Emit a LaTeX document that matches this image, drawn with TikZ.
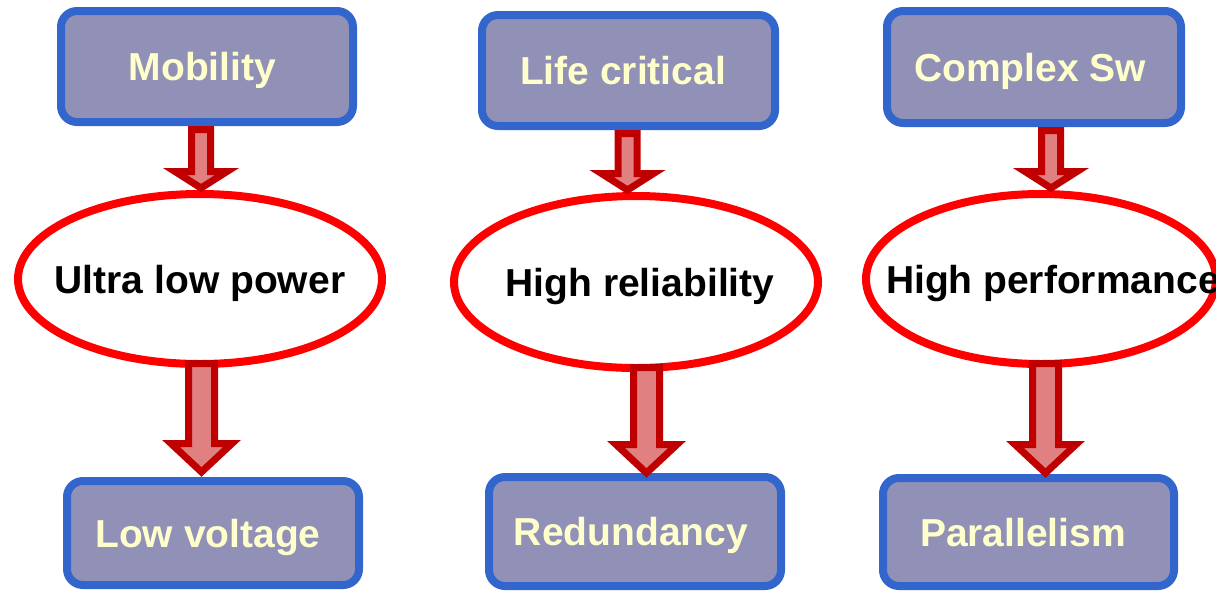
\documentclass[tikz,border=0pt]{standalone}
\usepackage{fontspec}
\setmainfont{Liberation Sans}
\usetikzlibrary{shapes.geometric,calc}
\definecolor{boxfill}{RGB}{145,145,184}
\definecolor{boxborder}{RGB}{51,102,204}
\definecolor{boxtext}{RGB}{255,255,204}
\definecolor{ellred}{RGB}{255,0,0}
\definecolor{arrfill}{RGB}{224,128,128}
\definecolor{arrdraw}{RGB}{192,0,0}
\newcommand\fatarrow[8]{%
  \draw[fatarr] let \p1=(#2), \p2=(#4) in
    ({#1pt-#6pt},{\y1+(#3pt)}) -- ({#1pt-#6pt},{\y2+(#5pt)+#8pt}) --
    ({#1pt-#7pt},{\y2+(#5pt)+#8pt}) -- ({#1pt},{\y2+(#5pt)}) --
    ({#1pt+#7pt},{\y2+(#5pt)+#8pt}) -- ({#1pt+#6pt},{\y2+(#5pt)+#8pt}) --
    ({#1pt+#6pt},{\y1+(#3pt)}) -- cycle;}
\begin{document}
\begin{tikzpicture}[x=1pt,y=-1pt,
  bigfont/.style={font=\bfseries\fontsize{39}{46}\selectfont},
  box/.style={draw=boxborder,fill=boxfill,line width=8pt,rounded corners=16pt,
    text=boxtext,bigfont,inner sep=0pt,minimum width=292pt,
    text height=28pt,text depth=0pt},
  ell/.style={ellipse,draw=ellred,fill=white,line width=8pt,inner sep=0pt,
    text=black,bigfont,text height=28pt,text depth=-4pt},
  fatarr/.style={draw=arrdraw,fill=arrfill,line width=7pt,miter limit=10}]
\useasboundingbox (0,0) rectangle (1216,590);
\clip (0,0) rectangle (1216,590);
% top boxes
\node[box,minimum height=111pt] (b1) at (207,66.5) {\hspace*{-9pt}Mobility};
\node[box,minimum width=293pt,minimum height=111pt] (b2) at (628.5,70.5) {\hspace*{-11pt}Life critical};
\node[box,minimum width=294pt,minimum height=112pt] (b3) at (1034,67) {\hspace*{-8pt}Complex Sw};
% ellipses
\node[ell,minimum width=364pt,minimum height=170pt] (e1) at (200,279) {\makebox[0pt]{Ultra low power}};
\node[ell,minimum width=364pt,minimum height=172pt] (e2) at (636,282) {\makebox[0pt]{\hspace*{8pt}High reliability}};
\node[ell,minimum width=350pt,minimum height=170pt] (e3) at (1041,279) {\makebox[0pt][l]{\hspace{-155pt}High performance}};
% bottom boxes
\node[box,minimum height=104pt] (c1) at (213,533) {\hspace*{-10pt}Low voltage};
\node[box,minimum height=109pt] (c2) at (635,531.5) {\hspace*{-8pt}Redundancy};
\node[box,minimum width=291pt,minimum height=108pt] (c3) at (1028.5,532) {\hspace*{-11pt}Parallelism};
% arrows
\fatarrow{201}{b1.south}{-3.5}{e1.north}{2}{9.5}{26}{16.5}
\fatarrow{627.5}{b2.south}{-3.5}{e2.north}{2}{9.5}{26}{16.5}
\fatarrow{1051}{b3.south}{-3.5}{e3.north}{2}{9.5}{26}{16.5}
\fatarrow{201.5}{e1.south}{4.5}{c1.north}{5}{13}{30.5}{28.5}
\fatarrow{646.5}{e2.south}{4.5}{c2.north}{0}{13}{30.5}{28.5}
\fatarrow{1045.5}{e3.south}{4.5}{c3.north}{1}{13}{30.5}{28.5}
\end{tikzpicture}
\end{document}
